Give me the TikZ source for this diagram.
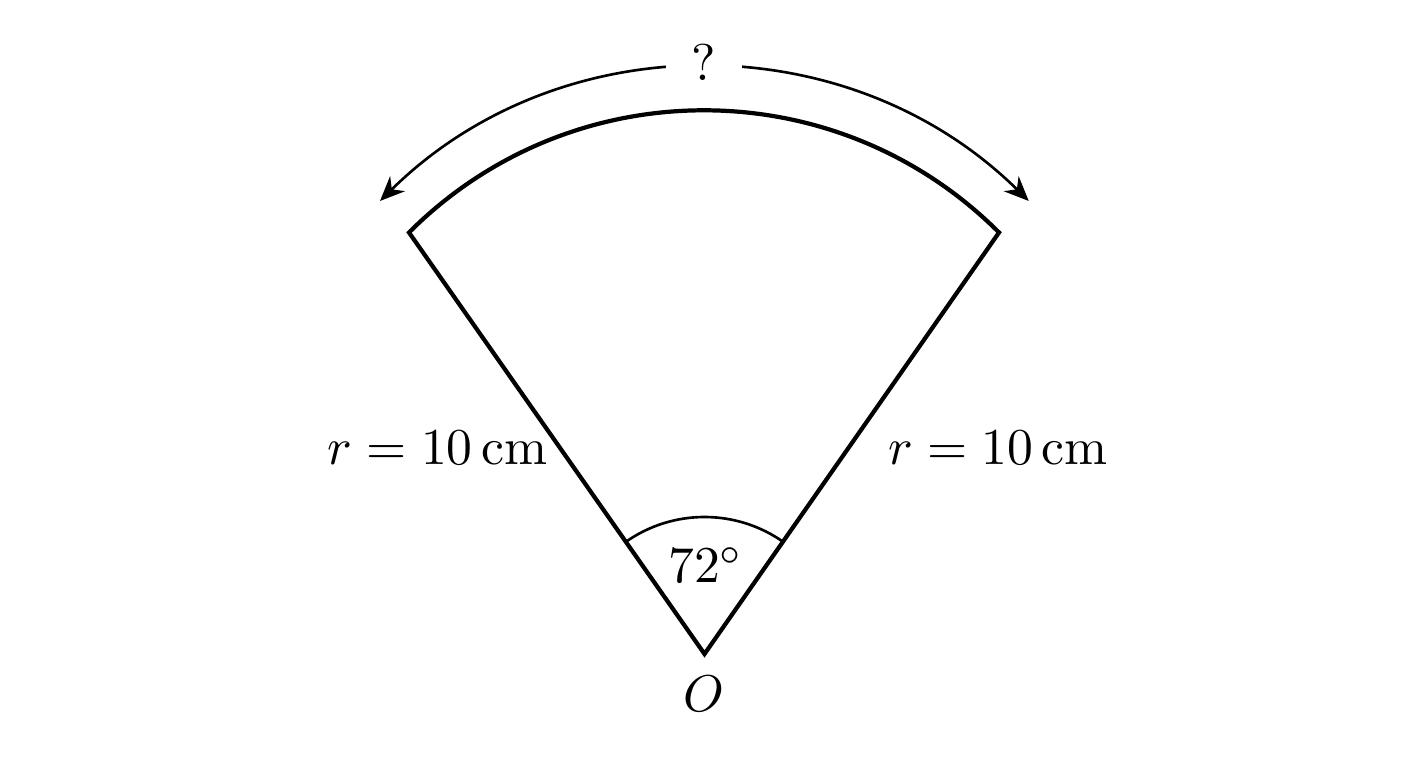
\documentclass[tikz,border=0pt]{standalone}
\usepackage{amsmath}
\usepackage{amssymb}
\usetikzlibrary{arrows.meta}

\begin{document}
\begin{tikzpicture}[lbl/.style={scale=1.47}]
			\useasboundingbox (0,0) rectangle (14.08,7.68);
			\coordinate (O) at (7.045,1.14);
			\coordinate (A) at (4.09,5.355);
			\coordinate (B) at (9.99,5.355);
			\coordinate (P) at (3.80,5.67);
			\coordinate (Q) at (10.28,5.67);
			\draw[line width=1.2pt,line join=miter](O)--(A) arc[start angle=135,end angle=45,radius=4.172]--cycle;
			\draw[line width=0.75pt](O)++(54.5:1.37) arc[start angle=54.5,end angle=125.5,radius=1.37];
			\draw[line width=0.75pt,{Stealth[length=7pt,width=6pt]}-{Stealth[length=7pt,width=6pt]}](P) arc[start angle=134.6,end angle=45.4,radius=4.62];
			\node[lbl,fill=white,inner xsep=5pt,inner ysep=1pt] (X) at (7.04,7.06) {?};
			\node[lbl] (L) at (4.375,3.20) {$r = 10\,\mathrm{cm}$};
			\node[lbl] (R) at (9.98,3.20) {$r = 10\,\mathrm{cm}$};
			\node[lbl] (T) at (7.06,2.03) {$72^\circ$};
			\node[lbl] (N) at (7.04,0.74) {$O$};
		\end{tikzpicture}
\end{document}
